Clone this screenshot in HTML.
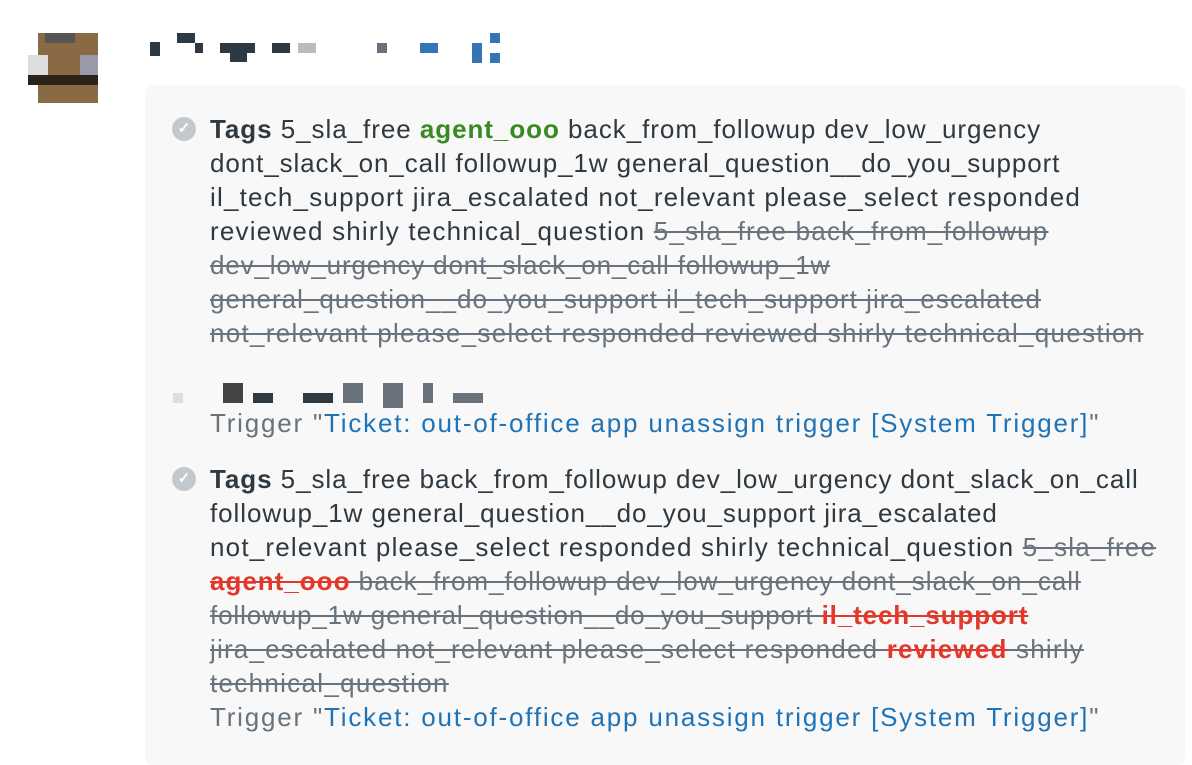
<!DOCTYPE html>
<html><head><meta charset="utf-8"><style>
body{margin:0;width:1192px;height:754px;background:#fff;position:relative;overflow:hidden;font-family:"Liberation Sans",sans-serif;}
.panel{position:absolute;left:145px;top:85px;width:1040px;height:680px;background:#f8f8f8;border-radius:8px;}
.l{position:absolute;left:210px;font-size:26px;line-height:34px;color:#2f3941;white-space:nowrap;}
.s{text-decoration:line-through;color:#68737d;}
.g{color:#3a8a23;font-weight:bold;}
.r{color:#e0392b;font-weight:bold;text-decoration:line-through;}
.b{color:#1f73b7;}
.t{color:#68737d;}
.ic{position:absolute;left:172px;width:24px;height:24px;border-radius:50%;background:#c2c8cc;color:#fff;font-size:15px;line-height:24px;text-align:center;font-weight:bold;}
.px{position:absolute;}
</style></head><body>
<div class="panel"></div>
<!-- avatar -->
<div class="px" style="left:38px;top:33px;width:60px;height:70px;background:#8a6a44;"></div>
<div class="px" style="left:28px;top:75px;width:70px;height:10px;background:#2a2418;"></div>
<div class="px" style="left:45px;top:33px;width:30px;height:10px;background:#555"></div>
<div class="px" style="left:28px;top:55px;width:20px;height:20px;background:#ddd"></div>
<div class="px" style="left:80px;top:55px;width:18px;height:20px;background:#99a"></div>
<!-- header blur -->
<div class="px" style="left:150px;top:42px;width:10px;height:14px;background:#2f3941"></div>
<div class="px" style="left:177px;top:33px;width:18px;height:10px;background:#2f3941"></div>
<div class="px" style="left:195px;top:43px;width:8px;height:10px;background:#2f3941"></div>
<div class="px" style="left:220px;top:43px;width:35px;height:10px;background:#2f3941"></div>
<div class="px" style="left:230px;top:53px;width:17px;height:9px;background:#2f3941"></div>
<div class="px" style="left:272px;top:43px;width:18px;height:10px;background:#2f3941"></div>
<div class="px" style="left:298px;top:43px;width:18px;height:10px;background:#bbb"></div>
<div class="px" style="left:377px;top:43px;width:10px;height:10px;background:#6a737d"></div>
<div class="px" style="left:420px;top:43px;width:18px;height:10px;background:#3575b5"></div>
<div class="px" style="left:472px;top:43px;width:10px;height:20px;background:#3575b5"></div>
<div class="px" style="left:490px;top:33px;width:10px;height:10px;background:#3575b5"></div>
<div class="px" style="left:490px;top:53px;width:10px;height:10px;background:#3575b5"></div>

<div class="ic" style="top:117px">✓</div>
<div class="l" style="top:112px;letter-spacing:0.95px"><b>Tags</b> 5_sla_free <span class="g">agent_ooo</span> back_from_followup dev_low_urgency</div>
<div class="l" style="top:146px;letter-spacing:0.9px">dont_slack_on_call followup_1w general_question__do_you_support</div>
<div class="l" style="top:180px;letter-spacing:1.2px">il_tech_support jira_escalated not_relevant please_select responded</div>
<div class="l" style="top:214px;letter-spacing:1.2px">reviewed shirly technical_question <span class="s">5_sla_free back_from_followup</span></div>
<div class="l s" style="top:248px;letter-spacing:0.85px">dev_low_urgency dont_slack_on_call followup_1w</div>
<div class="l s" style="top:282px;letter-spacing:1.03px">general_question__do_you_support il_tech_support jira_escalated</div>
<div class="l s" style="top:316px;letter-spacing:1.3px">not_relevant please_select responded reviewed shirly technical_question</div>

<div class="px" style="left:173px;top:393px;width:10px;height:10px;background:#ddd"></div>
<div class="px" style="left:223px;top:383px;width:20px;height:20px;background:#444"></div>
<div class="px" style="left:253px;top:393px;width:20px;height:10px;background:#2f3941"></div>
<div class="px" style="left:303px;top:393px;width:30px;height:10px;background:#2f3941"></div>
<div class="px" style="left:343px;top:383px;width:20px;height:20px;background:#6a737d"></div>
<div class="px" style="left:383px;top:383px;width:20px;height:25px;background:#6a737d"></div>
<div class="px" style="left:423px;top:383px;width:10px;height:20px;background:#6a737d"></div>
<div class="px" style="left:453px;top:393px;width:30px;height:10px;background:#6a737d"></div>
<div class="l t" style="top:406px;letter-spacing:1.8px">Trigger "<span class="b">Ticket: out-of-office app unassign trigger [System Trigger]</span>"</div>

<div class="ic" style="top:467px">✓</div>
<div class="l" style="top:462px;letter-spacing:0.94px"><b>Tags</b> 5_sla_free back_from_followup dev_low_urgency dont_slack_on_call</div>
<div class="l" style="top:496px;letter-spacing:0.93px">followup_1w general_question__do_you_support jira_escalated</div>
<div class="l" style="top:530px;letter-spacing:1.2px">not_relevant please_select responded shirly technical_question <span class="s">5_sla_free</span></div>
<div class="l s" style="top:564px;letter-spacing:1.0px"><span class="r">agent_ooo</span> back_from_followup dev_low_urgency dont_slack_on_call</div>
<div class="l s" style="top:598px;letter-spacing:0.87px">followup_1w general_question__do_you_support <span class="r">il_tech_support</span></div>
<div class="l s" style="top:632px;letter-spacing:1.2px">jira_escalated not_relevant please_select responded <span class="r">reviewed</span> shirly</div>
<div class="l s" style="top:666px;letter-spacing:1.3px">technical_question</div>
<div class="l t" style="top:700px;letter-spacing:1.8px">Trigger "<span class="b">Ticket: out-of-office app unassign trigger [System Trigger]</span>"</div>
</body></html>
